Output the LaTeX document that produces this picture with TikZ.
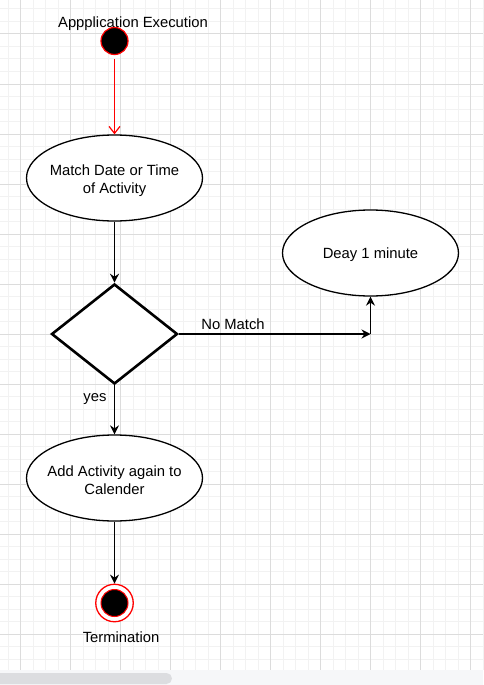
\documentclass[tikz,border=0pt]{standalone}
\usepackage{fontspec}
\setmainfont{Liberation Sans}
\usetikzlibrary{shapes.geometric,arrows.meta}
\definecolor{gridminor}{HTML}{F2F2F2}
\definecolor{gridmajor}{HTML}{DCDCDC}
\definecolor{barbg}{HTML}{F6F7F9}
\definecolor{barthumb}{HTML}{DCDDE0}
\definecolor{ured}{HTML}{FF0000}
\tikzset{
  lbl/.style={font=\fontsize{14.8}{18}\selectfont, inner sep=0pt, align=center},
  statebox/.style={ellipse, draw=black, line width=1.3pt, fill=white, minimum width=176pt, minimum height=86pt, inner sep=0pt},
  decbox/.style={diamond, draw=black, line width=2.6pt, fill=white, minimum width=126pt, minimum height=100pt, inner sep=0pt},
  startdot/.style={circle, draw=ured, fill=black, line width=1.2pt, minimum size=27pt, inner sep=0pt},
  endring/.style={circle, draw=ured, fill=white, line width=1.3pt, minimum size=37.5pt, inner sep=0pt},
  enddot/.style={circle, draw=ured, fill=black, line width=1pt, minimum size=27pt, inner sep=0pt},
  flow/.style={draw=black, line width=1.3pt, -{Stealth[length=9pt,width=9pt,inset=3pt]}},
  redflow/.style={draw=ured, line width=1.2pt, shorten <=4pt, -{Straight Barb[length=7pt,width=11pt]}},
}
\begin{document}
\begin{tikzpicture}[x=1pt,y=-1pt]
\useasboundingbox (0,0) rectangle (483,685);
\fill[white] (0,0) rectangle (483,685);
% grid
\foreach \i in {0,...,38} {\draw[gridminor, line width=1pt] ({8+12.5*\i},0) -- ({8+12.5*\i},670);}
\foreach \i in {0,...,53} {\draw[gridminor, line width=1pt] (0,{9+12.5*\i}) -- (483,{9+12.5*\i});}
\foreach \i in {0,...,9} {\draw[gridmajor, line width=1pt] ({20.5+50*\i},0) -- ({20.5+50*\i},670);}
\foreach \i in {0,...,12} {\draw[gridmajor, line width=1pt] (0,{34+50*\i}) -- (483,{34+50*\i});}
% scrollbar
\fill[barbg] (0,670) rectangle (483,685);
\fill[barthumb, rounded corners=5.5pt] (-6,673) rectangle (172,684);
% nodes
\node[lbl] (tstart) at (133,24) {Appplication Execution};
\node[startdot] (start) at (114.5,41) {};
\node[statebox, label={[lbl, name=matcht, yshift=-2.5pt]center:Match Date or Time\\of Activity}] (match) at (114.5,178) {};
\node[decbox] (dec) at (114.5,334) {};
\node[statebox, label={[lbl, name=delayt, yshift=-2pt]center:Deay 1 minute}] (delay) at (370.5,253) {};
\node[statebox, label={[lbl, name=addt, yshift=-2.5pt]center:Add Activity again to\\Calender}] (add) at (114.5,478) {};
\node[endring] (finish) at (114.5,603) {};
\node[enddot] (finishdot) at (finish.center) {};
\node[lbl] (tend) at (121,637) {Termination};
\coordinate (bend) at (370.5,334);
% connectors
\draw[redflow] (start) -- (match);
\draw[flow] (match) -- (dec.north);
\draw[flow] (dec.east) -- (bend);
\draw[flow] (bend) -- (delay.south);
\draw[flow] (dec.south) -- (add);
\draw[flow] (add) -- (finish);
\node[lbl] (tno) at (233,324) {No Match};
\node[lbl] (tyes) at (95,399) {yes};
\end{tikzpicture}
\end{document}
